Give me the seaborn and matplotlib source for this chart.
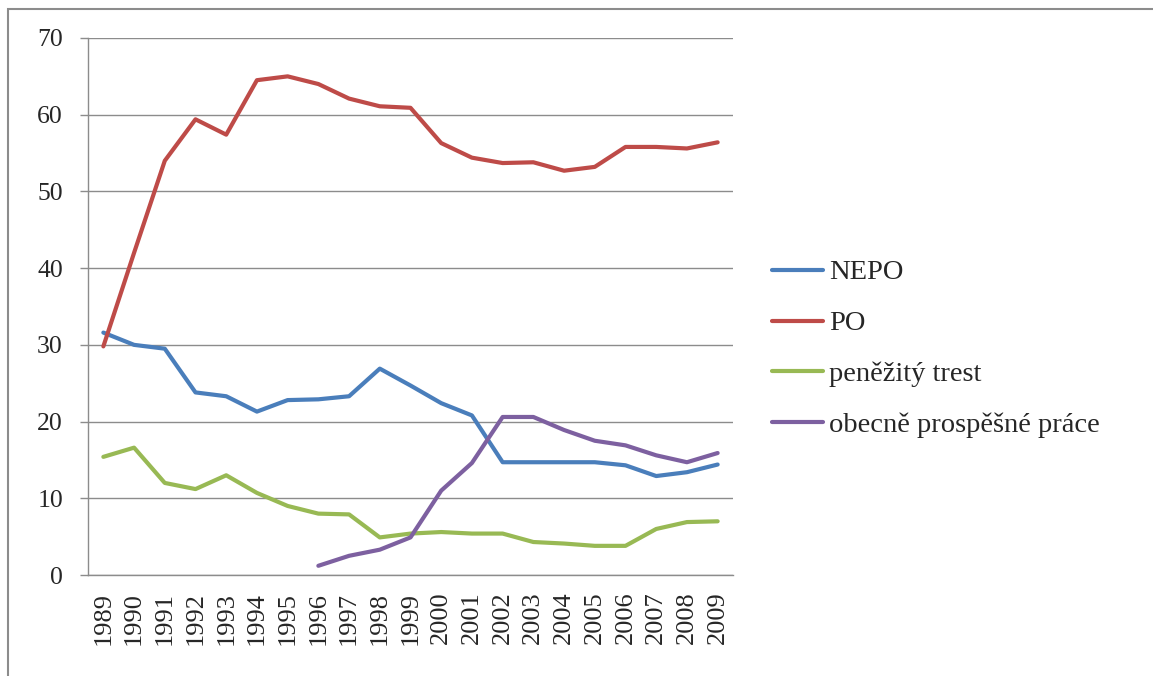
# Vývoj ukládaných trestů 1989-2009 (podíl v %)

import numpy as np
import pandas as pd
import matplotlib.pyplot as plt
import matplotlib.patches as mpatches
import seaborn as sns

# data
roky = list(range(1989, 2010))
nepo = [31.6, 30.0, 29.5, 23.8, 23.3, 21.3, 22.8, 22.9, 23.3, 26.9, 24.7,
        22.4, 20.8, 14.7, 14.7, 14.7, 14.7, 14.3, 12.9, 13.4, 14.4]
po = [29.8, 42.0, 54.0, 59.4, 57.4, 64.5, 65.0, 64.0, 62.1, 61.1, 60.9,
      56.3, 54.4, 53.7, 53.8, 52.7, 53.2, 55.8, 55.8, 55.6, 56.4]
penezity = [15.4, 16.6, 12.0, 11.2, 13.0, 10.7, 9.0, 8.0, 7.9, 4.9, 5.4,
            5.6, 5.4, 5.4, 4.3, 4.1, 3.8, 3.8, 6.0, 6.9, 7.0]
opp = [np.nan] * 7 + [1.2, 2.5, 3.3, 4.9, 11.0, 14.6, 20.6, 20.6, 18.9,
                      17.5, 16.9, 15.6, 14.7, 15.9]

nazvy = ['NEPO', 'PO', 'peněžitý trest', 'obecně prospěšné práce']
barvy = ['#4a7ebb', '#be4b48', '#98b954', '#7d60a0']

data = pd.DataFrame({'rok': roky, nazvy[0]: nepo, nazvy[1]: po,
                     nazvy[2]: penezity, nazvy[3]: opp})
dlouha = data.melt(id_vars='rok', var_name='trest', value_name='podil')

sns.set_style('white')
plt.rcParams['font.family'] = ['Liberation Serif', 'DejaVu Serif']

fig = plt.figure(figsize=(11.53, 6.76), dpi=100)
ax = fig.add_axes([88 / 1153, 1 - 575 / 676, (733 - 88) / 1153, (575 - 38) / 676])

sns.lineplot(data=dlouha, x='rok', y='podil', hue='trest', hue_order=nazvy,
             palette=dict(zip(nazvy, barvy)), linewidth=3, ax=ax, legend=False)

# osy ve stylu Excelu
seda = '#8c8c8c'
ax.set_xlim(1988.5, 2009.5)
ax.set_ylim(0, 70)
ax.set_yticks(range(0, 71, 10))
ax.set_xticks(roky)
ax.set_xticklabels([str(r) for r in roky], rotation=90, fontsize=19)
ax.set_xticks(np.arange(1988.5, 2010, 1), minor=True)
ax.tick_params(axis='x', which='major', length=0, pad=12)
ax.tick_params(axis='x', which='minor', length=6, width=1, color=seda, direction='out')
ax.tick_params(axis='y', length=6, width=1, color=seda, direction='out',
               labelsize=18.5, pad=12, left=True)
ax.yaxis.grid(True, color=seda, linewidth=1)
ax.xaxis.grid(False)
ax.set_axisbelow(True)
for strana in ['top', 'right']:
    ax.spines[strana].set_visible(False)
for strana in ['left', 'bottom']:
    ax.spines[strana].set_color(seda)
    ax.spines[strana].set_linewidth(1)
ax.set_xlabel('')
ax.set_ylabel('')

# legenda vpravo
fig.legend(handles=ax.get_lines()[:4], labels=nazvy, loc='center left',
           bbox_to_anchor=(772 / 1153, 1 - 349 / 676), frameon=False,
           fontsize=20.5, handlelength=1.8, handletextpad=0.2,
           labelspacing=0.88, borderpad=0, borderaxespad=0)

# rámeček kolem grafu
fig.add_artist(mpatches.Rectangle((8 / 1153, -0.1), 2, 1.1 - 9 / 676,
                                  transform=fig.transFigure, fill=False,
                                  edgecolor=seda, linewidth=1.5))

plt.savefig('out.png', dpi=100)
